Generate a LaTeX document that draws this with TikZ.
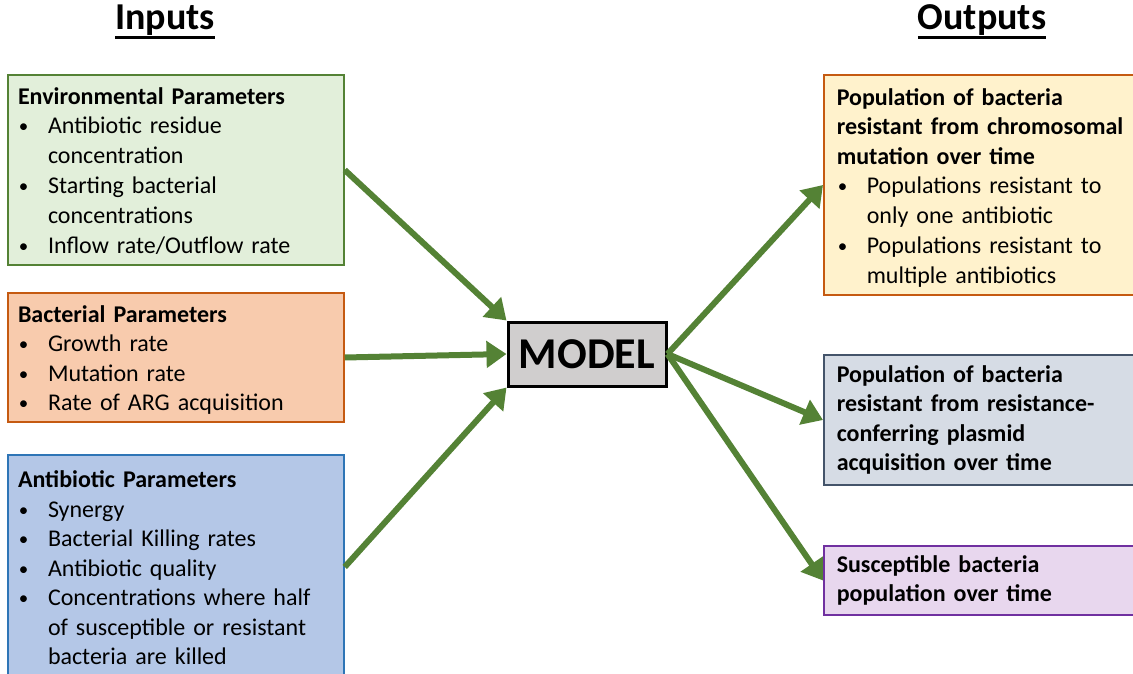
\documentclass[tikz,border=0pt]{standalone}
\usepackage{fontspec}
\setmainfont{Carlito}
\usetikzlibrary{arrows.meta}
\definecolor{envfill}{HTML}{E2EFDA}
\definecolor{envline}{HTML}{548235}
\definecolor{bactfill}{HTML}{F8CBAD}
\definecolor{bactline}{HTML}{C55A11}
\definecolor{abfill}{HTML}{B4C7E7}
\definecolor{abline}{HTML}{2E75B6}
\definecolor{chromfill}{HTML}{FFF2CC}
\definecolor{chromline}{HTML}{C55A11}
\definecolor{plasfill}{HTML}{D6DCE5}
\definecolor{plasline}{HTML}{44546A}
\definecolor{suscfill}{HTML}{E8D7EE}
\definecolor{suscline}{HTML}{7030A0}
\definecolor{modelfill}{HTML}{D0CECE}
\definecolor{flowgreen}{HTML}{548235}
\newcommand{\bul}[1]{\par\noindent\makebox[30pt][l]{\hspace{1pt}\raisebox{1pt}{\fontsize{19}{19}\selectfont\textbullet}}\begin{tabular}[t]{@{}l@{}}#1\end{tabular}}
\newcommand{\listend}{\par\kern-10pt}
\newcommand{\headul}[1]{\setbox0=\hbox{\textbf{#1}}\rlap{\rule[-9pt]{\wd0}{2.5pt}}\box0}
\begin{document}
\begin{tikzpicture}[x=1pt,y=-1pt,
  inbox/.style={draw,line width=1.5pt,align=left,inner xsep=10pt,inner ysep=0pt,text width=316pt,minimum width=336pt,font=\fontsize{24}{29.5}\selectfont},
  outbox/.style={inbox,inner xsep=13pt,text width=290pt,minimum width=316pt},
  flow/.style={line width=6pt,draw=flowgreen,-{Triangle[length=20pt,width=26pt]}}]
\useasboundingbox (0,0) rectangle (1133,674);
\node[font=\fontsize{38}{40}\selectfont] (intitle) at (165,22) {\headul{Inputs}};
\node[font=\fontsize{38}{40}\selectfont] (outtitle) at (982,22) {\headul{Outputs}};
\node[inbox,fill=envfill,draw=envline,minimum height=190pt] (env) at (176,170) {\textbf{Environmental Parameters}
\bul{Antibiotic residue\\ concentration}
\bul{Starting bacterial\\ concentrations}
\bul{Inflow rate/Outflow rate}\listend};
\node[inbox,fill=bactfill,draw=bactline,minimum height=129pt] (bact) at (176,357.5) {\textbf{Bacterial Parameters}
\bul{Growth rate}
\bul{Mutation rate}
\bul{Rate of ARG acquisition}\listend};
\node[inbox,fill=abfill,draw=abline,minimum height=224pt] (abx) at (176,567) {\textbf{Antibiotic Parameters}
\bul{Synergy}
\bul{Bacterial Killing rates}
\bul{Antibiotic quality}
\bul{Concentrations where half\\ of susceptible or resistant\\ bacteria are killed}\listend};
\node[draw,line width=3pt,fill=modelfill,minimum width=158pt,minimum height=64pt,font=\fontsize{44}{46}\selectfont\bfseries] (model) at (587,354) {MODEL};
\node[outbox,fill=chromfill,draw=chromline,minimum height=220pt,anchor=west] (chrom) at (823,185) {\textbf{Population of bacteria\newline resistant from chromosomal\newline mutation over time}
\bul{Populations resistant to\\ only one antibiotic}
\bul{Populations resistant to\\ multiple antibiotics}\listend};
\node[outbox,fill=plasfill,draw=plasline,minimum height=130pt,anchor=west] (plas) at (823,420) {\textbf{Population of bacteria\newline resistant from resistance-\newline conferring plasmid\newline acquisition over time}};
\node[outbox,fill=suscfill,draw=suscline,minimum height=69pt,anchor=west] (susc) at (823,580.5) {\textbf{Susceptible bacteria\newline population over time}};
\draw[flow] (env.east) -- (model.north west);
\draw[flow] (bact.east) -- (model.west);
\draw[flow] (abx.east) -- (model.south west);
\draw[flow] (model.east) -- (chrom.west);
\draw[flow] (model.east) -- (plas.west);
\draw[flow] (model.east) -- (susc.west);
\end{tikzpicture}
\end{document}
